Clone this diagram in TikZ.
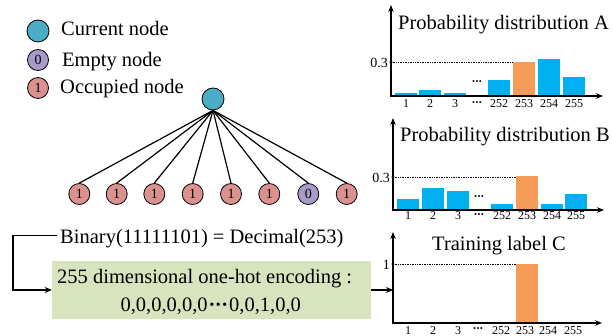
\documentclass[tikz,border=0pt]{standalone}
\usepackage{fontspec}
\setmainfont{Liberation Serif}
\usetikzlibrary{arrows.meta,calc}
\definecolor{curfill}{HTML}{4BACC6}
\definecolor{empfill}{HTML}{A99BC8}
\definecolor{occfill}{HTML}{D9928D}
\definecolor{barblue}{HTML}{00B0F0}
\definecolor{barorange}{HTML}{F79C58}
\definecolor{encfill}{HTML}{D7E4BD}
\newcommand{\mydots}{\textbf{\char"00B7\kern-0.5pt\char"00B7\kern-0.5pt\char"00B7}}
\begin{document}
\begin{tikzpicture}[x=1pt,y=-1pt,
  big/.style={font=\fontsize{20.5}{24}\selectfont, inner sep=0pt},
  circ/.style={circle, draw=black, line width=0.8pt, minimum size=21pt, inner sep=0pt, font=\fontsize{14}{14}\selectfont},
  curnode/.style={circ, fill=curfill, minimum size=22pt},
  emptynode/.style={circ, fill=empfill},
  occnode/.style={circ, fill=occfill},
  branch/.style={line width=1.2pt},
  axes/.style={line width=1.3pt, {Stealth[length=7pt,width=5.5pt]}-{Stealth[length=7pt,width=5.5pt]}},
  arrowline/.style={line width=1.3pt, -{Stealth[length=7pt,width=6pt]}},
  ticklab/.style={font=\fontsize{12}{12}\selectfont, inner sep=0pt},
  ylab/.style={font=\fontsize{14}{14}\selectfont, inner sep=0pt, anchor=east},
  guide/.style={densely dotted, line width=0.7pt},
  bluebar/.style={fill=barblue},
  orangebar/.style={fill=barorange}
]
\useasboundingbox (0,0) rectangle (613,336);

% legend
\node[curnode] (lc) at (38,31) {};
\node[emptynode] (le) at (38,60) {0};
\node[occnode] (lo) at (38,88) {1};
\node[big, anchor=base west] (tc) at (61,36) {Current node};
\node[big, anchor=base west] (te) at (62,66.5) {Empty node};
\node[big, anchor=base west] (to) at (60,94) {Occupied node};

% tree
\node[curnode] (root) at (213,99) {};
\node[occnode] (c1) at (79.3,194) {1};
\node[occnode] (c2) at (116.7,194) {1};
\node[occnode] (c3) at (154.3,194) {1};
\node[occnode] (c4) at (192.7,194) {1};
\node[occnode] (c5) at (231,194) {1};
\node[occnode] (c6) at (269.3,194) {1};
\node[emptynode] (c7) at (308.3,194) {0};
\node[occnode] (c8) at (346.7,194) {1};
\foreach \i in {1,...,8} \draw[branch] (root.south) -- (c\i.north);

% binary and encoding
\node[big, anchor=base west] (bin) at (60,244) {Binary(11111101) = Decimal(253)};
\node[fill=encfill, minimum width=319pt, minimum height=58pt, inner sep=0pt] (enc) at (211.5,290) {};
\node[big, anchor=base west] (enc1) at (57,283.3) {255 dimensional one-hot encoding\kern5pt:};
\node[big, anchor=base] (enc2) at (210.7,311.7) {0,0,0,0,0,0\kern1pt\mydots\kern1pt0,0,1,0,0};
\draw[arrowline] ($(bin.base west)+(-3,-8.5)$) -- ++(-44,0) |- (enc.west);
\coordinate (cin) at (393,290);
\draw[arrowline] (enc.east) -- (cin);

% chart A
\fill[bluebar] (395,93) rectangle (417,96);
\fill[bluebar] (419,90) rectangle (441,96);
\fill[bluebar] (444,93) rectangle (466,96);
\fill[bluebar] (488,80) rectangle (510,96);
\fill[orangebar] (513,62) rectangle (535,96);
\fill[bluebar] (538,59) rectangle (560,96);
\fill[bluebar] (563,77) rectangle (585,96);
\draw[axes] (391,5) -- (391,96) -- (603,96);
\draw[guide] (391,62) -- (513,62);
\fill (391,62) circle (1.6);
\node[ylab] (a03) at (388,63) {0.3};
\node[big, anchor=base west] (ta) at (398,30) {Probability distribution A};
\node[ticklab] (adots) at (477,83) {\mydots};
\foreach \x/\t in {406/1,430/2,455/3,477/\mydots,499/252,524/253,549/254,574/255}
  \node[ticklab] at (\x,104) {\t};

% chart B
\fill[bluebar] (397,199) rectangle (419,210);
\fill[bluebar] (422,188) rectangle (444,210);
\fill[bluebar] (447,191) rectangle (469,210);
\fill[bluebar] (491,204) rectangle (513,210);
\fill[orangebar] (516,176) rectangle (538,210);
\fill[bluebar] (541,204) rectangle (563,210);
\fill[bluebar] (565,194) rectangle (587,210);
\draw[axes] (393,118) -- (393,210) -- (604,210);
\draw[guide] (393,177) -- (516,177);
\fill (393,177) circle (1.6);
\node[ylab] (b03) at (390,178) {0.3};
\node[big, anchor=base west] (tb) at (400,141.7) {Probability distribution B};
\node[ticklab] (bdots) at (479,198) {\mydots};
\foreach \x/\t in {408/1,433/2,458/3,479/\mydots,502/252,527/253,552/254,576/255}
  \node[ticklab] at (\x,215.7) {\t};

% chart C
\fill[orangebar] (516,264) rectangle (538,323);
\draw[axes] (393,232) -- (393,323) -- (602,323);
\draw[guide] (393,264) -- (516,264);
\fill (393,264) circle (1.6);
\node[ylab] (c1lab) at (390,265) {1};
\node[big, anchor=base west] (tcc) at (432,251) {Training label C};
\foreach \x/\t in {408/1,433/2,458/3,478/\mydots,501/252,525/253,548/254,573/255}
  \node[ticklab] at (\x,330.5) {\t};
\end{tikzpicture}
\end{document}
